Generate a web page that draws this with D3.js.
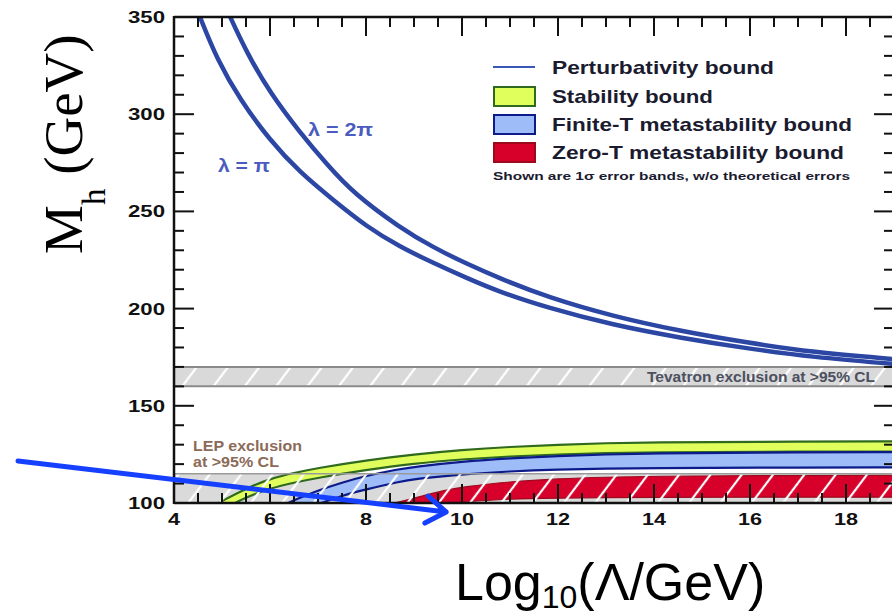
<!DOCTYPE html>
<html><head><meta charset="utf-8">
<script src="https://cdn.jsdelivr.net/npm/d3@7"></script>
<style>body{margin:0;background:#fff;} svg{display:block;}</style>
</head><body><svg id="c" width="892" height="616"></svg>
<script>
// ---------- data ----------
const xTickLabels = [4, 6, 8, 10, 12, 14, 16, 18];
const yTickLabels = [100, 150, 200, 250, 300, 350];

// Perturbativity bound, lambda = pi
const piX = [4.35, 4.54, 4.9, 5.375, 6.0, 6.625, 7.31, 8.02, 8.71, 9.4, 10.1, 10.79, 11.77, 13.15, 14.54, 15.94, 17.31, 19.0];
const piM = [362, 350, 328, 307.5, 286.5, 270, 256, 242, 231.7, 223.5, 215.7, 208.5, 200.5, 191.5, 185, 179.5, 175, 171.5];
// Perturbativity bound, lambda = 2 pi
const twoPiX = [4.95, 5.17, 5.52, 6.0, 6.625, 7.19, 7.73, 8.71, 9.4, 10.1, 10.79, 11.77, 13.15, 14.54, 15.94, 17.31, 19.0];
const twoPiM = [362, 350, 331.5, 311, 290.5, 274, 259.5, 241.5, 231.5, 223, 215.5, 206, 196, 188.5, 182.5, 177.5, 174];

// Stability bound (1 sigma band)
const stabX  = [4.85, 5.0, 5.5, 6.0, 6.5, 7.0, 8.0, 9.0, 10, 11, 12, 13, 14, 16, 19.2];
const stabHi = [99, 101, 107.5, 112.5, 115.5, 118, 122, 125, 127.3, 128.9, 130, 130.8, 131.2, 131.5, 131.7];
const stabLo = [94, 96.5, 103, 107.5, 110.5, 113, 117, 120.3, 122.5, 124, 125, 125.7, 126.1, 126.4, 126.5];

// Finite-T metastability bound
const finX  = [6.3, 6.5, 7.0, 7.5, 8.0, 8.7, 9.0, 10, 11, 12, 13, 14, 16, 19.2];
const finHi = [99, 101.5, 106.5, 110.5, 114, 117.5, 118.6, 121.3, 123, 124.2, 125, 125.5, 126, 126.2];
const finLo = [91, 94, 99.5, 103.8, 107, 111, 112.3, 114.8, 116.3, 117.2, 117.7, 118, 118.2, 118.3];

// Zero-T metastability bound
const zeroX  = [8.4, 8.8, 9.2, 9.6, 10, 11, 12, 13, 14, 16, 19.2];
const zeroHi = [99, 101.2, 103.8, 106.3, 108.3, 111, 112.5, 113.3, 113.8, 114.1, 114.2];
const zeroLo = [92, 94.5, 97, 99, 100.6, 102.1, 102.5, 102.8, 102.9, 103, 103];

// Exclusion regions (GeV)
const tevatron = [160, 170];
const lep = [100, 115];

// legend entries
const legendItems = [
  {label: "Perturbativity bound", kind: "line"},
  {label: "Stability bound", kind: "stab"},
  {label: "Finite-T metastability bound", kind: "fin"},
  {label: "Zero-T metastability bound", kind: "zero"}
];
const legendNote = "Shown are 1\u03c3 error bands, w/o theoretical errors";

// annotation arrow (data coordinates)
const arrowFrom = [0.75, 121.6];
const arrowTo = [9.67, 95.4];

// ---------- drawing ----------
const x = d3.scaleLinear().domain([4, 19]).range([174, 894]);
const y = d3.scaleLinear().domain([100, 350]).range([503, 17]);
const svg = d3.select('#c');
svg.append('rect').attr('width', 892).attr('height', 616).attr('fill', '#fff');
const defs = svg.append('defs');
defs.append('clipPath').attr('id', 'plot').append('rect')
  .attr('x', x(4)).attr('y', y(350)).attr('width', x(19) - x(4)).attr('height', y(100) - y(350));
const pat = defs.append('pattern').attr('id', 'hatch').attr('patternUnits', 'userSpaceOnUse')
  .attr('width', 25).attr('height', 25).attr('patternTransform', 'rotate(37)');
pat.append('line').attr('x1', 3).attr('x2', 3).attr('y1', 0).attr('y2', 25)
  .attr('stroke', '#fff').attr('stroke-width', 2.2);

const colors = {
  stab: {fill: '#e0ff5c', stroke: '#2f6a1e'},
  fin: {fill: '#9dbcf8', stroke: '#0c1a8a'},
  zero: {fill: '#d6002a', stroke: '#9c0a1e'},
  pert: '#2c46a4'
};

const g = svg.append('g').attr('clip-path', 'url(#plot)');

// LEP gray fill
g.append('rect').attr('x', x(4)).attr('width', x(19) - x(4))
  .attr('y', y(lep[1])).attr('height', y(lep[0]) - y(lep[1])).attr('fill', '#dadada');

// Tevatron band
g.append('rect').attr('x', x(4)).attr('width', x(19) - x(4))
  .attr('y', y(tevatron[1])).attr('height', y(tevatron[0]) - y(tevatron[1])).attr('fill', '#d9d9d9');
g.append('rect').attr('x', x(4)).attr('width', x(19) - x(4))
  .attr('y', y(tevatron[1])).attr('height', y(tevatron[0]) - y(tevatron[1])).attr('fill', 'url(#hatch)');
tevatron.forEach(v => g.append('line').attr('x1', x(4)).attr('x2', x(19)).attr('y1', y(v)).attr('y2', y(v))
  .attr('stroke', '#8a8a8a').attr('stroke-width', 2));

function drawBand(xs, lo, hi, c, sw) {
  const data = xs.map((v, i) => ({x: v, lo: lo[i], hi: hi[i]}));
  const area = d3.area().x(d => x(d.x)).y0(d => y(d.lo)).y1(d => y(d.hi)).curve(d3.curveBasis);
  g.append('path').datum(data).attr('d', area).attr('fill', c.fill);
  const lineHi = d3.line().x(d => x(d.x)).y(d => y(d.hi)).curve(d3.curveBasis);
  const lineLo = d3.line().x(d => x(d.x)).y(d => y(d.lo)).curve(d3.curveBasis);
  g.append('path').datum(data).attr('d', lineHi).attr('fill', 'none').attr('stroke', c.stroke).attr('stroke-width', sw);
  g.append('path').datum(data).attr('d', lineLo).attr('fill', 'none').attr('stroke', c.stroke).attr('stroke-width', sw);
}
drawBand(stabX, stabLo, stabHi, colors.stab, 2.2);
drawBand(finX, finLo, finHi, colors.fin, 2.2);
drawBand(zeroX, zeroLo, zeroHi, colors.zero, 1.2);

// LEP hatch overlay + border
g.append('rect').attr('x', x(4)).attr('width', x(19) - x(4))
  .attr('y', y(lep[1])).attr('height', y(lep[0]) - y(lep[1])).attr('fill', 'url(#hatch)');
g.append('line').attr('x1', x(4)).attr('x2', x(19)).attr('y1', y(lep[1])).attr('y2', y(lep[1]))
  .attr('stroke', '#9a9a9a').attr('stroke-width', 1.5);

// Perturbativity curves
const pline = d3.line().x(d => x(d[0])).y(d => y(d[1])).curve(d3.curveBasis);
g.append('path').datum(piX.map((v, i) => [v, piM[i]])).attr('d', pline)
  .attr('fill', 'none').attr('stroke', colors.pert).attr('stroke-width', 4.5);
g.append('path').datum(twoPiX.map((v, i) => [v, twoPiM[i]])).attr('d', pline)
  .attr('fill', 'none').attr('stroke', colors.pert).attr('stroke-width', 4.5);

// frame
const frame = svg.append('g').attr('stroke', '#111').attr('stroke-width', 2.5);
frame.append('line').attr('x1', x(4)).attr('x2', x(4)).attr('y1', y(350) - 1).attr('y2', y(100) + 1);
frame.append('line').attr('x1', x(4)).attr('x2', x(19)).attr('y1', y(350)).attr('y2', y(350));
frame.append('line').attr('x1', x(4)).attr('x2', x(19)).attr('y1', y(100)).attr('y2', y(100));
frame.append('line').attr('x1', x(19)).attr('x2', x(19)).attr('y1', y(350)).attr('y2', y(100));

// ticks
const ticks = svg.append('g').attr('stroke', '#111').attr('stroke-width', 2);
d3.range(4.5, 19, 0.5).forEach(v => {
  const major = Math.abs(v % 2) < 1e-9;
  const len = major ? 19 : 10;
  ticks.append('line').attr('x1', x(v)).attr('x2', x(v)).attr('y1', y(100)).attr('y2', y(100) - len);
  ticks.append('line').attr('x1', x(v)).attr('x2', x(v)).attr('y1', y(350)).attr('y2', y(350) + len);
});
d3.range(110, 350, 10).forEach(v => {
  const major = v % 50 === 0;
  const len = major ? 20 : 10;
  ticks.append('line').attr('y1', y(v)).attr('y2', y(v)).attr('x1', x(4)).attr('x2', x(4) + len);
  ticks.append('line').attr('y1', y(v)).attr('y2', y(v)).attr('x1', x(19)).attr('x2', x(19) - len);
});

// tick labels
const tl = svg.append('g').attr('font-family', 'Liberation Sans, Arial, sans-serif')
  .attr('font-weight', 'bold').attr('font-size', 16).attr('fill', '#111');
yTickLabels.forEach(v => {
  tl.append('text').attr('x', 165).attr('y', y(v) + 6).attr('text-anchor', 'end')
    .attr('textLength', 37).attr('lengthAdjust', 'spacingAndGlyphs').text(v);
});
xTickLabels.forEach(v => {
  const s = String(v);
  tl.append('text').attr('x', x(v)).attr('y', 525).attr('text-anchor', 'middle')
    .attr('textLength', s.length === 1 ? 12 : 24).attr('lengthAdjust', 'spacingAndGlyphs').text(s);
});

// region labels
svg.append('text').attr('x', 647).attr('y', 382).attr('font-family', 'Liberation Sans, Arial, sans-serif')
  .attr('font-weight', 'bold').attr('font-size', 14).attr('fill', '#4c5060')
  .attr('textLength', 228).attr('lengthAdjust', 'spacingAndGlyphs').text('Tevatron exclusion at >95% CL');
svg.append('text').attr('x', 193).attr('y', 451).attr('font-family', 'Liberation Sans, Arial, sans-serif')
  .attr('font-weight', 'bold').attr('font-size', 14).attr('fill', '#8c6a58')
  .attr('textLength', 109).attr('lengthAdjust', 'spacingAndGlyphs').text('LEP exclusion');
svg.append('text').attr('x', 193).attr('y', 467).attr('font-family', 'Liberation Sans, Arial, sans-serif')
  .attr('font-weight', 'bold').attr('font-size', 14).attr('fill', '#8c6a58')
  .attr('textLength', 86).attr('lengthAdjust', 'spacingAndGlyphs').text('at >95% CL');

// lambda labels
svg.append('text').attr('x', 308).attr('y', 136).attr('font-family', 'Liberation Sans, Arial, sans-serif')
  .attr('font-weight', 'bold').attr('font-size', 18).attr('fill', '#4a5cc0')
  .attr('textLength', 65).attr('lengthAdjust', 'spacingAndGlyphs').text('\u03bb = 2\u03c0');
svg.append('text').attr('x', 218).attr('y', 172).attr('font-family', 'Liberation Sans, Arial, sans-serif')
  .attr('font-weight', 'bold').attr('font-size', 18).attr('fill', '#4a5cc0')
  .attr('textLength', 52).attr('lengthAdjust', 'spacingAndGlyphs').text('\u03bb = \u03c0');

// legend
const leg = svg.append('g').attr('font-family', 'Liberation Sans, Arial, sans-serif')
  .attr('font-weight', 'bold').attr('fill', '#1b1b30');
const legLen = [222, 161, 300, 292];
const legY = [67, 96, 124, 152];
legendItems.forEach((it, i) => {
  const cy = legY[i];
  if (it.kind === 'line') {
    leg.append('line').attr('x1', 493).attr('x2', 535).attr('y1', cy).attr('y2', cy)
      .attr('stroke', '#3a58b8').attr('stroke-width', 2.2);
  } else {
    const c = colors[it.kind];
    leg.append('rect').attr('x', 494).attr('y', cy - 9).attr('width', 41).attr('height', 19)
      .attr('fill', c.fill).attr('stroke', c.stroke).attr('stroke-width', 2);
  }
  leg.append('text').attr('x', 552).attr('y', cy + 7).attr('font-size', 19)
    .attr('textLength', legLen[i]).attr('lengthAdjust', 'spacingAndGlyphs').text(it.label);
});
leg.append('text').attr('x', 493).attr('y', 180).attr('font-size', 11.5)
  .attr('textLength', 357).attr('lengthAdjust', 'spacingAndGlyphs').text(legendNote);

// axis titles
const yt = svg.append('text').attr('transform', 'translate(82,254) rotate(-90)')
  .attr('font-family', 'Liberation Serif, Times New Roman, serif').attr('font-size', 55).attr('fill', '#000');
yt.append('tspan').text('M');
yt.append('tspan').attr('font-size', 33).attr('dy', 23).text('h');
yt.append('tspan').attr('dy', -23).text(' (GeV)');

const xt = svg.append('text').attr('x', 455).attr('y', 600)
  .attr('font-family', 'Liberation Sans, Arial, sans-serif').attr('font-size', 52).attr('fill', '#000');
xt.append('tspan').text('Log');
xt.append('tspan').attr('font-size', 32).attr('dy', 8).text('10');
xt.append('tspan').attr('dy', -8).text('(\u039b/GeV)');

// arrow annotation
const ax0 = x(arrowFrom[0]), ay0 = y(arrowFrom[1]), ax1 = x(arrowTo[0]), ay1 = y(arrowTo[1]);
const ang = Math.atan2(ay1 - ay0, ax1 - ax0);
const bl = 24, ba = 0.6;
const b1 = [ax1 - bl * Math.cos(ang - ba), ay1 - bl * Math.sin(ang - ba)];
const b2 = [ax1 - bl * Math.cos(ang + ba), ay1 - bl * Math.sin(ang + ba)];
svg.append('path')
  .attr('d', `M${ax0},${ay0}L${ax1},${ay1}M${b1[0]},${b1[1]}L${ax1},${ay1}L${b2[0]},${b2[1]}`)
  .attr('fill', 'none').attr('stroke', '#1540ff').attr('stroke-width', 5)
  .attr('stroke-linecap', 'round').attr('stroke-linejoin', 'round');
</script>
</body></html>
